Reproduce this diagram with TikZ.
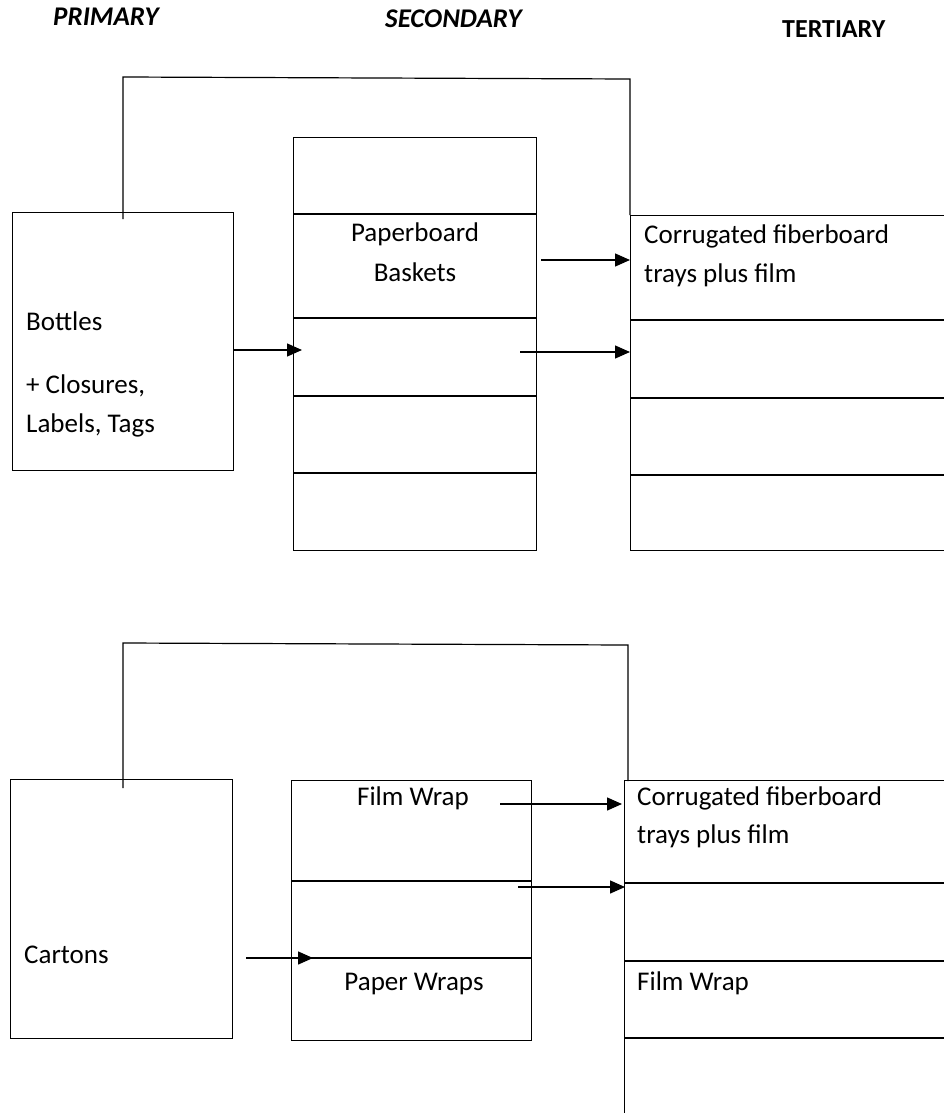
\documentclass[tikz,border=0pt]{standalone}
\usepackage{fontspec}
\setmainfont{Carlito}
\usetikzlibrary{arrows.meta}
\begin{document}
\begin{tikzpicture}[x=1pt,y=-1pt,
  box/.style={draw, line width=1.2pt, inner sep=0pt, anchor=north west},
  lbl/.style={font=\fontsize{27}{39}\selectfont, inner sep=0pt},
  hdr/.style={font=\fontsize{27}{31}\selectfont\bfseries, inner sep=0pt, anchor=base west},
  conn/.style={line width=1.2pt},
  arr/.style={line width=1.4pt, -{Triangle[length=15pt,width=13pt]}},
  divline/.style={line width=1.1pt}]
\clip (0,0) rectangle (944,1113);
\fill[white] (0,0) rectangle (944,1113);
% headers
\node[hdr] (hp) at (53,26) {\itshape PRIMARY};
\node[hdr] (hs) at (385,28) {\itshape SECONDARY};
\node[hdr, font=\fontsize{26}{31}\selectfont\bfseries] (ht) at (782,38) {TERTIARY};

% ---------- upper group ----------
\node[box, minimum width=221pt, minimum height=258pt] (p1) at (12,212) {};
\node[box, minimum width=243pt, minimum height=413pt] (s1) at (293,137) {};
\node[box, minimum width=340pt, minimum height=335pt] (t1) at (630,215) {};
\foreach \y in {214,318,396,473} \draw[divline] (s1.west |- 0,\y) -- (s1.east |- 0,\y);
\foreach \y in {320,398,475} \draw[divline] (t1.west |- 0,\y) -- (t1.east |- 0,\y);

\coordinate (c1) at (123,219);
\draw[conn] (c1) -- (123,77) -- (630,79) -- (t1.north west);

\node[lbl, anchor=base] (pb1) at (415,241) {Paperboard};
\node[lbl, anchor=base] (pb2) at (415,281) {Baskets};
\node[lbl, anchor=base west] (tc1) at (644,243) {Corrugated fiberboard};
\node[lbl, anchor=base west] (tc2) at (644,282) {trays plus film};
\node[lbl, anchor=base west] (b1) at (26,330) {Bottles};
\node[lbl, anchor=base west] (b2) at (26,393) {+ Closures,};
\node[lbl, anchor=base west] (b3) at (26,432) {Labels, Tags};

\coordinate (a1e) at (302,350);
\draw[arr] (p1.east |- a1e) -- (a1e);
\coordinate (a2s) at (541,260);
\draw[arr] (a2s) -- (t1.west |- a2s);
\coordinate (a3s) at (520,352);
\draw[arr] (a3s) -- (t1.west |- a3s);

% ---------- lower group ----------
\node[box, minimum width=222pt, minimum height=259pt] (p2) at (10,779) {};
\node[box, minimum width=240pt, minimum height=260pt] (s2) at (291,780) {};
\node[box, minimum width=340pt, minimum height=360pt] (t2) at (624,780) {};
\foreach \y in {881,958} \draw[divline] (s2.west |- 0,\y) -- (s2.east |- 0,\y);
\foreach \y in {883,961,1038} \draw[divline] (t2.west |- 0,\y) -- (t2.east |- 0,\y);

\coordinate (c2) at (123,788);
\coordinate (c2e) at (628,781);
\draw[conn] (c2) -- (123,643) -- (628,645) -- (c2e);

\node[lbl, anchor=base west] (ct) at (24,963) {Cartons};
\node[lbl, anchor=base] (fw) at (413,805) {Film Wrap};
\node[lbl, anchor=base] (pw) at (414,990) {Paper Wraps};
\node[lbl, anchor=base west] (tc3) at (637,805) {Corrugated fiberboard};
\node[lbl, anchor=base west] (tc4) at (637,843) {trays plus film};
\node[lbl, anchor=base west] (tf) at (637,990) {Film Wrap};

\coordinate (b1s) at (246,958);
\coordinate (b1e) at (313,958);
\draw[arr] (b1s) -- (b1e);
\coordinate (b2s) at (500,804);
\draw[arr] (b2s) -- ([xshift=-2pt]t2.west |- b2s);
\coordinate (b3s) at (518,887);
\draw[arr] (b3s) -- ([xshift=1pt]t2.west |- b3s);
\end{tikzpicture}
\end{document}
